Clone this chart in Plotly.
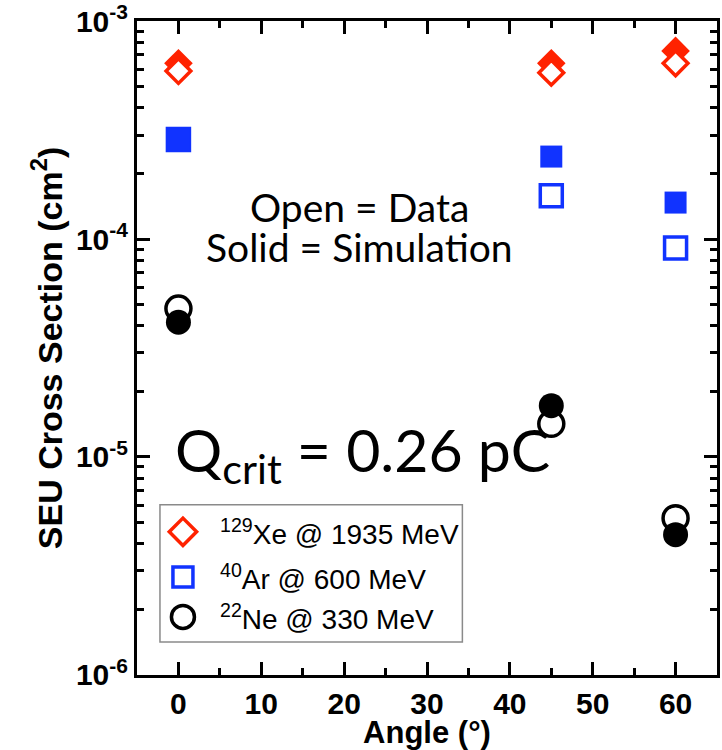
import plotly.graph_objects as go

# Incidence angles (degrees)
angles = [0, 45, 60]

# SEU cross sections (cm^2): measured data vs. simulation
xe_data = [5.9e-4, 5.8e-4, 6.4e-4]
xe_sim = [6.4e-4, 6.4e-4, 7.3e-4]
ar_data = [2.86e-4, 1.58e-4, 9.1e-5]
ar_sim = [2.86e-4, 2.39e-4, 1.47e-4]
ne_data = [4.8e-5, 1.42e-5, 5.24e-6]
ne_sim = [4.15e-5, 1.72e-5, 4.4e-6]

legend_names = ["<sup>129</sup>Xe @ 1935 MeV",
                "<sup>40</sup>Ar @ 600 MeV",
                "<sup>22</sup>Ne @ 330 MeV"]

y_tickvals = [1e-6, 1e-5, 1e-4, 1e-3]
y_ticktext = ["10<sup>-6</sup>", "10<sup>-5</sup>", "10<sup>-4</sup>", "10<sup>-3</sup>"]
x_tickvals = [0, 10, 20, 30, 40, 50, 60]
x_minor = [5, 15, 25, 35, 45, 55]
X_RANGE = [-5, 65]
Y_RANGE = [-6.0005, -2.9995]

RED = "#ff2200"
BLUE = "#1133ff"
BLACK = "#000000"
SANS = "Liberation Sans, Arial, Helvetica, sans-serif"
ROUND = "Lato, sans-serif"

fig = go.Figure()


def add_points(y, sym, color, size, filled, front=False):
    if filled:
        marker = dict(symbol=sym, size=size, color=color, line=dict(width=0))
    else:
        marker = dict(symbol=sym, size=size, color="white",
                      line=dict(width=3.5, color=color))
    fig.add_trace(go.Scatter(x=angles, y=y, mode="markers", showlegend=False,
                             xaxis="x2" if front else "x",
                             yaxis="y2" if front else "y", marker=marker))


# back layer on (x, y); front layer on a second subplot with the same
# domain and ranges, whose axes sit on the top and right of the frame
add_points(ne_data, "circle", BLACK, 25, filled=False)
add_points(ar_data, "square", BLUE, 22, filled=False)
add_points(xe_sim, "diamond", RED, 22, filled=True)
add_points(ne_sim, "circle", BLACK, 25, filled=True, front=True)
add_points(ar_sim, "square", BLUE, 22, filled=True, front=True)
add_points(xe_data, "diamond", RED, 19, filled=False, front=True)

# Legend box: key markers on a hidden [0, 1] overlay axis, labels as text
leg_rows = [0.219, 0.150, 0.0888]
leg_symbols = ["diamond", "square", "circle"]
leg_colors = [RED, BLUE, BLACK]
leg_sizes = [21, 20, 23]
leg_x = 0.0792
fig.add_shape(type="rect", xref="paper", yref="paper",
              x0=0.0396, x1=0.561, y0=0.0505, y1=0.2603,
              line=dict(color="#8a8a8a", width=1.5), fillcolor="white",
              layer="below")
for row, sym, col, sz in zip(leg_rows, leg_symbols, leg_colors, leg_sizes):
    fig.add_trace(go.Scatter(
        x=[leg_x], y=[row], xaxis="x3", yaxis="y3", mode="markers",
        showlegend=False, hoverinfo="skip",
        marker=dict(symbol=sym, size=sz, color="white",
                    line=dict(width=3.5, color=col))))
for row, name in zip(leg_rows, legend_names):
    fig.add_annotation(x=0.139, y=row, xref="paper", yref="paper",
                       xanchor="left", yanchor="middle", text=name,
                       showarrow=False,
                       font=dict(family=SANS, size=28, color="black"))

tick_font = dict(family=SANS, size=30, color="black", weight="bold")
tick_style = dict(ticks="inside", ticklen=13, tickwidth=2.5,
                  tickcolor="black", showgrid=False, zeroline=False,
                  automargin=False)
x_minor_style = dict(tickvals=x_minor, ticks="inside", ticklen=7,
                     tickwidth=2.5, tickcolor="black")
y_minor_style = dict(dtick="D1", ticks="inside", ticklen=7, tickwidth=2.5,
                     tickcolor="black", showgrid=False)

fig.update_layout(
    xaxis=dict(
        domain=[0, 1], range=X_RANGE, tickvals=x_tickvals, showline=True,
        linewidth=3, linecolor="black", mirror="allticks",
        tickfont=tick_font, minor=x_minor_style,
        title=dict(text="Angle (°)", standoff=3,
                   font=dict(family=SANS, size=31, color="black",
                             weight="bold")),
        **tick_style,
    ),
    yaxis=dict(
        domain=[0, 1], type="log", range=Y_RANGE, tickvals=y_tickvals,
        ticktext=y_ticktext, showline=True, linewidth=3,
        linecolor="black", mirror="allticks", tickfont=tick_font,
        ticklabeloverflow="allow", minor=y_minor_style,
        title=dict(text="SEU Cross Section (cm<sup>2</sup>)", standoff=4,
                   font=dict(family=SANS, size=34, color="black",
                             weight="bold")),
        **tick_style,
    ),
    xaxis2=dict(
        domain=[0, 1], side="top", anchor="y2", range=X_RANGE,
        tickmode="array", tickvals=x_tickvals, showticklabels=False,
        showline=False, minor=x_minor_style, **tick_style,
    ),
    yaxis2=dict(
        domain=[0, 1], side="right", anchor="x2", type="log",
        range=Y_RANGE, tickmode="array", tickvals=y_tickvals,
        showticklabels=False, showline=False, minor=y_minor_style,
        **tick_style,
    ),
    xaxis3=dict(overlaying="x", anchor="y3", range=[0, 1], visible=False),
    yaxis3=dict(overlaying="y", anchor="x3", range=[0, 1], visible=False),
)

note_font = dict(family=ROUND, size=39, color="black")
fig.add_annotation(x=0.384, y=0.716, xref="paper", yref="paper",
                   xanchor="center", yanchor="middle",
                   text="Open = Data", showarrow=False, font=note_font)
fig.add_annotation(x=0.384, y=0.654, xref="paper", yref="paper",
                   xanchor="center", yanchor="middle",
                   text="Solid = Simulation", showarrow=False,
                   font=note_font)
fig.add_annotation(x=0.389, y=0.338, xref="paper", yref="paper",
                   xanchor="center", yanchor="middle",
                   text="Q<sub>crit</sub> = 0.26 pC", showarrow=False,
                   font=dict(family=ROUND, size=59, color="black"))

fig.update_layout(
    width=722, height=750,
    margin=dict(l=137, r=5, t=21, b=75, autoexpand=False),
    plot_bgcolor="rgba(0,0,0,0)", paper_bgcolor="white",
    showlegend=False,
)

fig.write_html("out.html")
